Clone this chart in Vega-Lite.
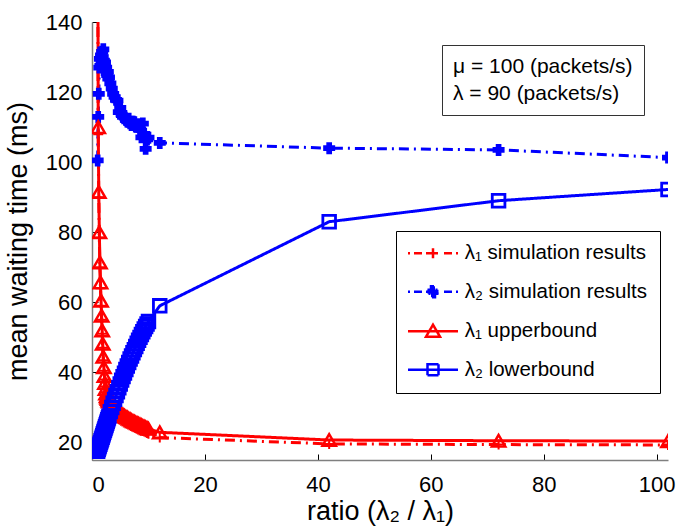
{
  "$schema": "https://vega.github.io/schema/vega-lite/v6.json",
  "width": 576,
  "height": 438,
  "autosize": {"type": "none"},
  "padding": {"left": 92, "top": 22, "right": 23, "bottom": 66},
  "background": "white",
  "config": {
    "font": "Liberation Sans",
    "view": {"stroke": null},
    "axis": {
      "grid": false,
      "tickSize": -6,
      "tickColor": "#000000",
      "tickWidth": 1,
      "domainColor": "#7f7f7f",
      "domainWidth": 1.5,
      "labelFontSize": 22,
      "titleFontSize": 27,
      "labelColor": "#000000",
      "titleColor": "#000000",
      "titleFontWeight": "normal"
    }
  },
  "datasets": {
    "curves": [
      {"s":"sim1","x":1.0,"y":170},{"s":"sim1","x":1.1,"y":108},{"s":"sim1","x":1.2,"y":90},{"s":"sim1","x":1.3,"y":78.5},{"s":"sim1","x":1.4,"y":70},{"s":"sim1","x":1.5,"y":64},{"s":"sim1","x":1.6,"y":59},{"s":"sim1","x":1.7,"y":55},{"s":"sim1","x":1.8,"y":51},{"s":"sim1","x":1.9,"y":47},{"s":"sim1","x":2.0,"y":43.5},{"s":"sim1","x":2.1,"y":40.5},{"s":"sim1","x":2.2,"y":38},{"s":"sim1","x":2.3,"y":36},{"s":"sim1","x":2.4,"y":34.3},{"s":"sim1","x":2.5,"y":33},{"s":"sim1","x":2.6,"y":32},{"s":"sim1","x":2.7,"y":31.4},{"s":"sim1","x":2.8,"y":30.9},{"s":"sim1","x":2.9,"y":30.5},{"s":"sim1","x":3.0,"y":30.2},{"s":"sim1","x":3.25,"y":29.7},{"s":"sim1","x":3.5,"y":29.3},{"s":"sim1","x":3.75,"y":28.9},{"s":"sim1","x":4.0,"y":28.5},{"s":"sim1","x":4.25,"y":28.1},{"s":"sim1","x":4.5,"y":27.8},{"s":"sim1","x":4.75,"y":27.4},{"s":"sim1","x":5.0,"y":27.1},{"s":"sim1","x":5.25,"y":26.8},{"s":"sim1","x":5.5,"y":26.5},{"s":"sim1","x":5.75,"y":26.2},{"s":"sim1","x":6.0,"y":25.9},{"s":"sim1","x":6.25,"y":25.7},{"s":"sim1","x":6.5,"y":25.4},{"s":"sim1","x":6.75,"y":25.2},{"s":"sim1","x":7.0,"y":24.9},{"s":"sim1","x":7.25,"y":24.7},{"s":"sim1","x":7.5,"y":24.5},{"s":"sim1","x":7.75,"y":24.3},{"s":"sim1","x":8.0,"y":24.1},{"s":"sim1","x":8.25,"y":23.9},{"s":"sim1","x":8.5,"y":23.7},{"s":"sim1","x":8.75,"y":23.5},{"s":"sim1","x":9.0,"y":23.3},{"s":"sim1","x":9.25,"y":23.1},{"s":"sim1","x":9.5,"y":22.9},{"s":"sim1","x":9.75,"y":22.7},{"s":"sim1","x":10.0,"y":22.5},{"s":"sim1","x":12,"y":21.4},{"s":"sim1","x":42,"y":19.6},{"s":"sim1","x":72,"y":19.4},{"s":"sim1","x":102,"y":19.3},

      {"s":"sim2","x":1.0,"y":100.5},{"s":"sim2","x":1.1,"y":112.9},{"s":"sim2","x":1.2,"y":119.5},{"s":"sim2","x":1.3,"y":127},{"s":"sim2","x":1.4,"y":129.5},{"s":"sim2","x":1.5,"y":127.5},{"s":"sim2","x":1.6,"y":130.5},{"s":"sim2","x":1.7,"y":128.5},{"s":"sim2","x":1.8,"y":131.5},{"s":"sim2","x":1.9,"y":130},{"s":"sim2","x":2.0,"y":132.2},{"s":"sim2","x":2.1,"y":129},{"s":"sim2","x":2.2,"y":127.8},{"s":"sim2","x":2.3,"y":128.5},{"s":"sim2","x":2.4,"y":126.5},{"s":"sim2","x":2.5,"y":127},{"s":"sim2","x":2.6,"y":125.3},{"s":"sim2","x":2.7,"y":124.8},{"s":"sim2","x":2.8,"y":125.8},{"s":"sim2","x":2.9,"y":123.8},{"s":"sim2","x":3.0,"y":124.2},{"s":"sim2","x":3.25,"y":122.5},{"s":"sim2","x":3.5,"y":121},{"s":"sim2","x":3.75,"y":119.5},{"s":"sim2","x":4.0,"y":118.6},{"s":"sim2","x":4.25,"y":117.8},{"s":"sim2","x":4.5,"y":117.6},{"s":"sim2","x":4.75,"y":114.3},{"s":"sim2","x":5.0,"y":115.5},{"s":"sim2","x":5.25,"y":113.6},{"s":"sim2","x":5.5,"y":112.9},{"s":"sim2","x":5.75,"y":113.2},{"s":"sim2","x":6.0,"y":112.1},{"s":"sim2","x":6.25,"y":111.6},{"s":"sim2","x":6.5,"y":112.4},{"s":"sim2","x":6.75,"y":111.1},{"s":"sim2","x":7.0,"y":110.6},{"s":"sim2","x":7.25,"y":111.5},{"s":"sim2","x":7.5,"y":111.4},{"s":"sim2","x":7.75,"y":110.2},{"s":"sim2","x":8.0,"y":110.8},{"s":"sim2","x":8.25,"y":110.1},{"s":"sim2","x":8.5,"y":109.2},{"s":"sim2","x":8.75,"y":107.1},{"s":"sim2","x":9.0,"y":111},{"s":"sim2","x":9.25,"y":108.1},{"s":"sim2","x":9.5,"y":103.8},{"s":"sim2","x":9.75,"y":106.5},{"s":"sim2","x":10.0,"y":107},{"s":"sim2","x":12,"y":105.5},{"s":"sim2","x":42,"y":104},{"s":"sim2","x":72,"y":103.5},{"s":"sim2","x":102,"y":101.3},

      {"s":"ub1","x":1.0,"y":190},{"s":"ub1","x":1.1,"y":110},{"s":"ub1","x":1.2,"y":91.5},{"s":"ub1","x":1.3,"y":80},{"s":"ub1","x":1.4,"y":71.4},{"s":"ub1","x":1.5,"y":65.7},{"s":"ub1","x":1.6,"y":60.5},{"s":"ub1","x":1.7,"y":56.2},{"s":"ub1","x":1.8,"y":52},{"s":"ub1","x":1.9,"y":48.2},{"s":"ub1","x":2.0,"y":44.5},{"s":"ub1","x":2.1,"y":41.5},{"s":"ub1","x":2.2,"y":39},{"s":"ub1","x":2.3,"y":37},{"s":"ub1","x":2.4,"y":35.3},{"s":"ub1","x":2.5,"y":34},{"s":"ub1","x":2.6,"y":33.2},{"s":"ub1","x":2.7,"y":32.8},{"s":"ub1","x":2.8,"y":32.4},{"s":"ub1","x":2.9,"y":32},{"s":"ub1","x":3.0,"y":31.7},{"s":"ub1","x":3.25,"y":31.2},{"s":"ub1","x":3.5,"y":30.7},{"s":"ub1","x":3.75,"y":30.3},{"s":"ub1","x":4.0,"y":29.9},{"s":"ub1","x":4.25,"y":29.5},{"s":"ub1","x":4.5,"y":29.2},{"s":"ub1","x":4.75,"y":28.8},{"s":"ub1","x":5.0,"y":28.5},{"s":"ub1","x":5.25,"y":28.2},{"s":"ub1","x":5.5,"y":27.9},{"s":"ub1","x":5.75,"y":27.6},{"s":"ub1","x":6.0,"y":27.3},{"s":"ub1","x":6.25,"y":27.1},{"s":"ub1","x":6.5,"y":26.8},{"s":"ub1","x":6.75,"y":26.6},{"s":"ub1","x":7.0,"y":26.3},{"s":"ub1","x":7.25,"y":26.1},{"s":"ub1","x":7.5,"y":25.9},{"s":"ub1","x":7.75,"y":25.7},{"s":"ub1","x":8.0,"y":25.5},{"s":"ub1","x":8.25,"y":25.3},{"s":"ub1","x":8.5,"y":25.1},{"s":"ub1","x":8.75,"y":24.9},{"s":"ub1","x":9.0,"y":24.7},{"s":"ub1","x":9.25,"y":24.5},{"s":"ub1","x":9.5,"y":24.3},{"s":"ub1","x":9.75,"y":24.1},{"s":"ub1","x":10.0,"y":23.9},{"s":"ub1","x":12,"y":22.9},{"s":"ub1","x":42,"y":20.7},{"s":"ub1","x":72,"y":20.5},{"s":"ub1","x":102,"y":20.4},

      {"s":"lb2","x":1.0,"y":17.5},{"s":"lb2","x":1.1,"y":18},{"s":"lb2","x":1.2,"y":18.5},{"s":"lb2","x":1.3,"y":19},{"s":"lb2","x":1.4,"y":19.5},{"s":"lb2","x":1.5,"y":20},{"s":"lb2","x":1.6,"y":20.5},{"s":"lb2","x":1.7,"y":21},{"s":"lb2","x":1.8,"y":21.5},{"s":"lb2","x":1.9,"y":22},{"s":"lb2","x":2.0,"y":22.5},{"s":"lb2","x":2.1,"y":23},{"s":"lb2","x":2.2,"y":23.5},{"s":"lb2","x":2.3,"y":24},{"s":"lb2","x":2.4,"y":24.5},{"s":"lb2","x":2.5,"y":25},{"s":"lb2","x":2.6,"y":25.5},{"s":"lb2","x":2.7,"y":26},{"s":"lb2","x":2.8,"y":26.5},{"s":"lb2","x":2.9,"y":27},{"s":"lb2","x":3.0,"y":27.5},{"s":"lb2","x":3.25,"y":28.8},{"s":"lb2","x":3.5,"y":30},{"s":"lb2","x":3.75,"y":31.2},{"s":"lb2","x":4.0,"y":32.3},{"s":"lb2","x":4.25,"y":33.4},{"s":"lb2","x":4.5,"y":34.5},{"s":"lb2","x":4.75,"y":35.6},{"s":"lb2","x":5.0,"y":36.7},{"s":"lb2","x":5.25,"y":37.8},{"s":"lb2","x":5.5,"y":38.8},{"s":"lb2","x":5.75,"y":39.8},{"s":"lb2","x":6.0,"y":40.8},{"s":"lb2","x":6.25,"y":41.8},{"s":"lb2","x":6.5,"y":42.8},{"s":"lb2","x":6.75,"y":43.8},{"s":"lb2","x":7.0,"y":44.7},{"s":"lb2","x":7.25,"y":45.6},{"s":"lb2","x":7.5,"y":46.5},{"s":"lb2","x":7.75,"y":47.4},{"s":"lb2","x":8.0,"y":48.3},{"s":"lb2","x":8.25,"y":49.2},{"s":"lb2","x":8.5,"y":50},{"s":"lb2","x":8.75,"y":50.8},{"s":"lb2","x":9.0,"y":51.6},{"s":"lb2","x":9.25,"y":52.4},{"s":"lb2","x":9.5,"y":53.1},{"s":"lb2","x":9.75,"y":53.8},{"s":"lb2","x":10.0,"y":54.5},{"s":"lb2","x":12,"y":59},{"s":"lb2","x":42,"y":83},{"s":"lb2","x":72,"y":89},{"s":"lb2","x":102,"y":92.2}
    ],
    "notes": [
      {"note": "μ = 100 (packets/s)\u00a0\u00a0\u00a0"},
      {"note": "λ = 90 (packets/s)"}
    ]
  },
  "layer": [
    {
      "data": {"name": "curves"},
      "mark": {"type": "line", "strokeWidth": 3, "clip": true},
      "encoding": {
        "x": {"field": "x", "type": "quantitative",
              "scale": {"domain": [0, 102], "nice": false, "zero": false},
              "axis": {"title": "ratio (λ₂ / λ₁)", "values": [0, 20, 40, 60, 80, 100], "labelPadding": 20, "titlePadding": 3}},
        "y": {"field": "y", "type": "quantitative",
              "scale": {"domain": [15, 140], "nice": false, "zero": false},
              "axis": {"title": "mean waiting time (ms)", "values": [20, 40, 60, 80, 100, 120, 140], "labelPadding": 16, "titlePadding": 13}},
        "color": {"field": "s", "type": "nominal",
          "scale": {"domain": ["sim1", "sim2", "ub1", "lb2"], "range": ["#ff0000", "#0000ff", "#ff0000", "#0000ff"]},
          "legend": {
            "orient": "none", "legendX": 304, "legendY": 209,
            "title": null,
            "padding": 12,
            "strokeColor": "#000000",
            "fillColor": "#ffffff",
            "labelFontSize": 20.5,
            "labelLimit": 400,
            "labelColor": "#000000",
            "labelExpr": "datum.value == 'sim1' ? 'λ₁ simulation results' : datum.value == 'sim2' ? 'λ₂ simulation results' : datum.value == 'ub1' ? 'λ₁ upperbound' : 'λ₂ lowerbound'",
            "symbolSize": 100,
            "symbolStrokeWidth": 2.5,
            "symbolOffset": 14.75,
            "labelOffset": 21.5,
            "rowPadding": 16.5,
            "encode": {
              "symbols": {
                "update": {
                  "shape": {"signal": "datum.index == 0 ? 'M-5,0L-4.6,0M-3.8,0L-2.2,0M-1.4,0L1.4,0M2.2,0L3.8,0M4.6,0L5,0M-1,0L1,0M0,-1L0,1' : datum.index == 1 ? 'M-5,0L-4.6,0M-3.8,0L-2.2,0M-1.4,0L1.4,0M2.2,0L3.8,0M4.6,0L5,0M-1.1,-0.4L-0.4,-0.4L-0.4,-1.1L0.4,-1.1L0.4,-0.4L1.1,-0.4L1.1,0.4L0.4,0.4L0.4,1.1L-0.4,1.1L-0.4,0.4L-1.1,0.4Z' : datum.index == 2 ? 'M-5,0L5,0M0,-1.3L1.4,1.1L-1.4,1.1Z' : 'M-5,0L5,0M-1.1,-1.1L1.1,-1.1L1.1,1.1L-1.1,1.1Z'"},
                  "fill": {"signal": "datum.index == 1 ? '#0000ff' : 'transparent'"},
                  "strokeDash": {"value": [1, 0]}
                }
              }
            }
          }
        },
        "strokeDash": {"field": "s", "type": "nominal",
          "scale": {"domain": ["sim1", "sim2", "ub1", "lb2"], "range": [[10, 5, 2, 5], [10, 5, 2, 5], [1, 0], [1, 0]]},
          "legend": null}
      }
    },
    {
      "data": {"name": "curves"},
      "transform": [{"filter": "datum.s == 'sim1'"}],
      "mark": {"type": "point", "shape": "M-1,0L1,0M0,-1L0,1", "size": 100, "filled": false, "stroke": "#ff0000", "strokeWidth": 2, "opacity": 1, "clip": true},
      "encoding": {
        "x": {"field": "x", "type": "quantitative"},
        "y": {"field": "y", "type": "quantitative"}
      }
    },
    {
      "data": {"name": "curves"},
      "transform": [{"filter": "datum.s == 'sim2'"}],
      "mark": {"type": "point", "shape": "cross", "size": 110, "filled": true, "fill": "#0000ff", "stroke": "#0000ff", "strokeWidth": 1.5, "opacity": 1, "clip": true},
      "encoding": {
        "x": {"field": "x", "type": "quantitative"},
        "y": {"field": "y", "type": "quantitative"}
      }
    },
    {
      "data": {"name": "curves"},
      "transform": [{"filter": "datum.s == 'ub1'"}],
      "mark": {"type": "point", "shape": "triangle-up", "size": 180, "filled": false, "stroke": "#ff0000", "strokeWidth": 2.5, "opacity": 1, "clip": true},
      "encoding": {
        "x": {"field": "x", "type": "quantitative"},
        "y": {"field": "y", "type": "quantitative"}
      }
    },
    {
      "data": {"name": "curves"},
      "transform": [{"filter": "datum.s == 'lb2'"}],
      "mark": {"type": "point", "shape": "square", "size": 160, "filled": false, "stroke": "#0000ff", "strokeWidth": 2.8, "opacity": 1, "clip": true},
      "encoding": {
        "x": {"field": "x", "type": "quantitative"},
        "y": {"field": "y", "type": "quantitative"}
      }
    },
    {
      "data": {"name": "notes"},
      "mark": {"type": "point", "opacity": 0},
      "encoding": {
        "shape": {"field": "note", "type": "nominal",
          "scale": {"domain": ["μ = 100 (packets/s)\u00a0\u00a0\u00a0", "λ = 90 (packets/s)"]},
          "legend": {
            "orient": "none", "legendX": 350, "legendY": 23,
            "title": null,
            "padding": 11,
            "strokeColor": "#333333",
            "fillColor": "#ffffff",
            "labelFontSize": 21,
            "labelLimit": 400,
            "labelColor": "#000000",
            "symbolSize": 0,
            "symbolOpacity": 0,
            "symbolStrokeWidth": 0,
            "labelOffset": -21,
            "rowPadding": 5
          }
        }
      }
    }
  ]
}
